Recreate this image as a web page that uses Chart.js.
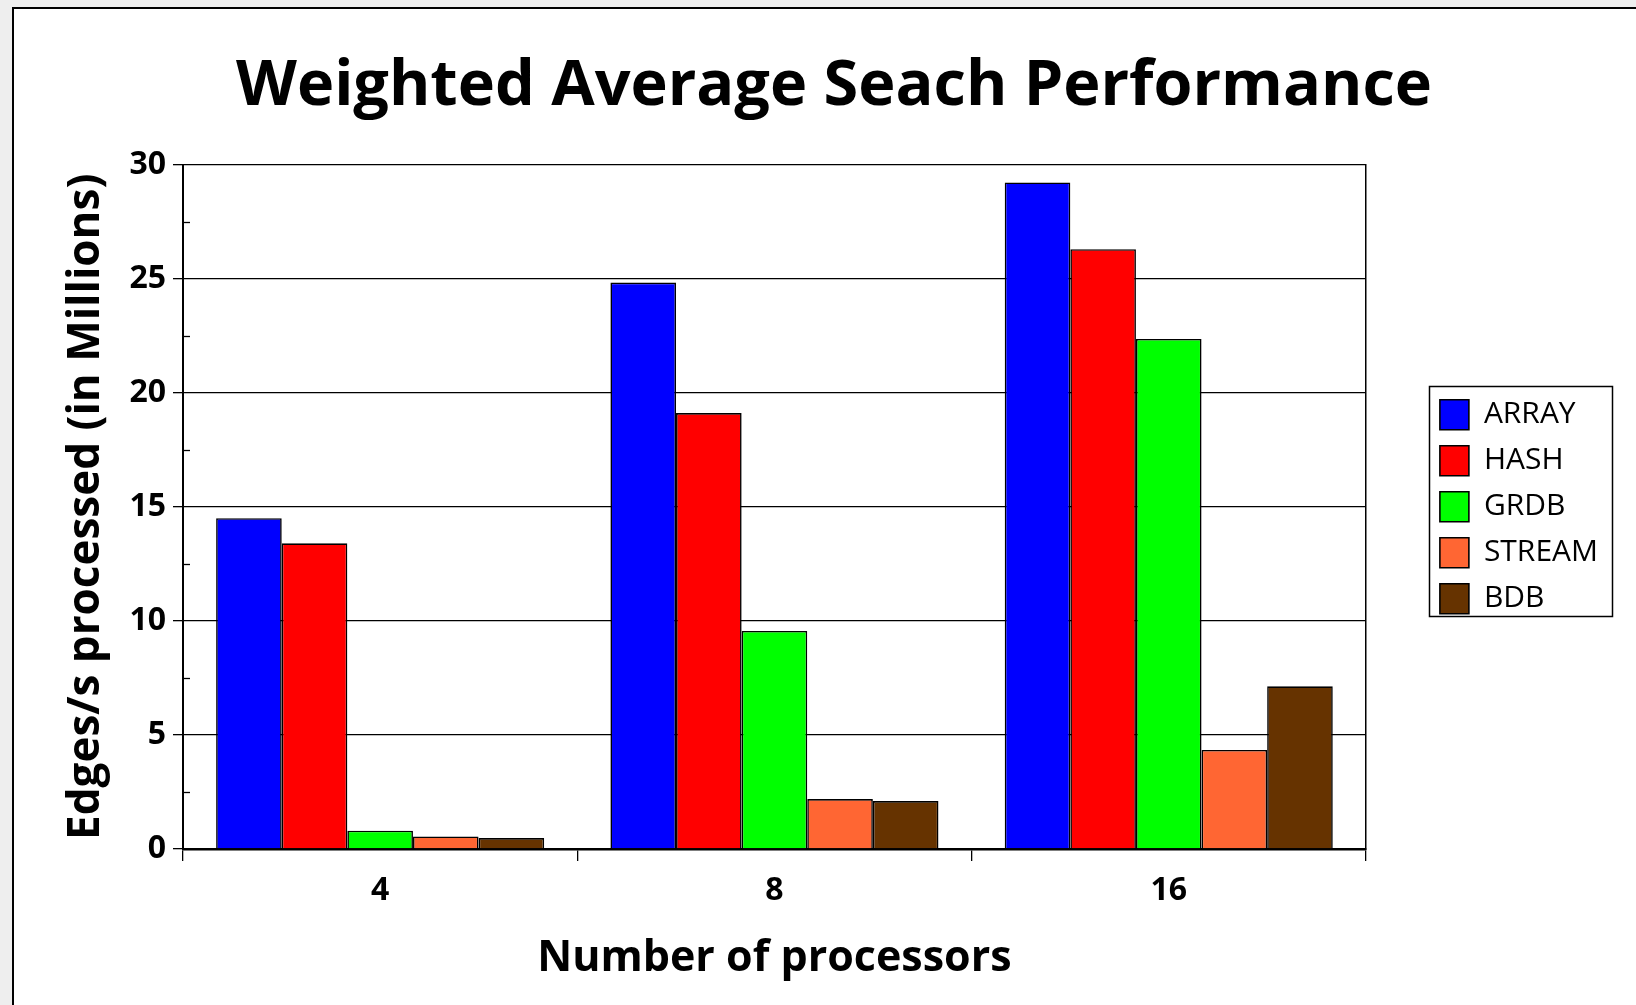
<!DOCTYPE html>
<html>
<head>
<meta charset="utf-8">
<title>Weighted Average Seach Performance</title>
<script src="https://cdn.jsdelivr.net/npm/chart.js@4.4.1/dist/chart.umd.min.js"></script>
<style>
  html, body { margin: 0; padding: 0; width: 1636px; height: 1005px; overflow: hidden; background: #eeeeee; }
  #panel { position: absolute; left: 12px; top: 7px; width: 1640px; height: 1010px; background: #ffffff;
           border-left: 2px solid #000; border-top: 2px solid #000; }
  #chart { position: absolute; left: 0; top: 0; }
</style>
</head>
<body>
<div id="panel"></div>
<canvas id="chart" width="1636" height="1005" style="width:1636px;height:1005px"></canvas>
<script>
// Processor counts on the x axis
const categories = ['4', '8', '16'];

// Edges/s processed, in millions, per storage backend
const arrayValues  = [14.5, 24.83, 29.22];
const hashValues   = [13.4, 19.11, 26.29];
const grdbValues   = [0.8, 9.56, 22.36];
const streamValues = [0.55, 2.19, 4.34];
const bdbValues    = [0.48, 2.1, 7.13];

// Y axis range and labelled step
const yMin = 0;
const yMax = 30;
const yStep = 5;

const FONT = "'Open Sans', 'DejaVu Sans', sans-serif";
Chart.defaults.color = '#000';
Chart.defaults.font.family = FONT;

function series(label, data, color) {
  return {
    label, data,
    backgroundColor: color,
    borderColor: '#000',
    borderWidth: 1.6,
    categoryPercentage: 0.832,
    barPercentage: 1.0
  };
}

// Short inward ticks halfway between the labelled y ticks
const minorTicks = {
  id: 'minorTicks',
  afterDatasetsDraw(chart) {
    const y = chart.scales.y;
    const ticks = y.ticks;
    const left = chart.chartArea.left;
    const ctx = chart.ctx;
    ctx.save();
    ctx.strokeStyle = '#000';
    ctx.lineWidth = 1.3;
    for (let i = 0; i < ticks.length - 1; i++) {
      const mid = (ticks[i].value + ticks[i + 1].value) / 2;
      const py = Math.round(y.getPixelForValue(mid)) + 0.5;
      ctx.beginPath();
      ctx.moveTo(left, py);
      ctx.lineTo(left + 7, py);
      ctx.stroke();
    }
    ctx.restore();
  }
};

// Frame around the legend entries
const legendFrame = {
  id: 'legendFrame',
  afterDraw(chart) {
    const hb = chart.legend && chart.legend.legendHitBoxes;
    if (!hb || !hb.length) return;
    const first = hb[0], last = hb[hb.length - 1];
    let maxRight = 0;
    hb.forEach(b => { maxRight = Math.max(maxRight, b.left + b.width); });
    const x0 = Math.round(first.left - 11) + 0.5;
    const y0 = Math.round(first.top - 13.5) + 0.5;
    const x1 = Math.round(maxRight + 14) + 0.5;
    const y1 = Math.round(last.top + last.height + 2.5) + 0.5;
    const ctx = chart.ctx;
    ctx.save();
    ctx.strokeStyle = '#000';
    ctx.lineWidth = 1.5;
    ctx.strokeRect(x0, y0, x1 - x0, y1 - y0);
    ctx.restore();
  }
};

new Chart(document.getElementById('chart'), {
  type: 'bar',
  data: {
    labels: categories,
    datasets: [
      series('ARRAY', arrayValues, '#0000ff'),
      series('HASH', hashValues, '#ff0000'),
      series('GRDB', grdbValues, '#00ff00'),
      series('STREAM', streamValues, '#ff6633'),
      series('BDB', bdbValues, '#663300')
    ]
  },
  options: {
    responsive: false,
    animation: false,
    devicePixelRatio: 1,
    layout: { padding: { left: 60, right: 28, top: 0, bottom: 20 } },
    plugins: {
      title: {
        display: true,
        text: 'Weighted Average Seach Performance',
        color: '#000',
        font: { family: FONT, size: 63, weight: 'bold' },
        padding: { top: 49, bottom: 40 }
      },
      legend: {
        position: 'right',
        fullSize: false,
        labels: {
          color: '#000',
          font: { family: FONT, size: 30, weight: '500' },
          boxWidth: 29,
          boxHeight: 30,
          padding: 16
        }
      },
      tooltip: { enabled: false }
    },
    scales: {
      x: {
        grid: {
          offset: true,
          drawOnChartArea: false,
          drawTicks: true,
          tickLength: 12,
          color: '#000',
          lineWidth: 1.3
        },
        border: { display: true, color: '#000', width: 2.5 },
        ticks: {
          color: '#000',
          font: { family: FONT, size: 32, weight: 'bold' },
          padding: 11
        },
        title: {
          display: true,
          text: 'Number of processors',
          color: '#000',
          font: { family: FONT, size: 43, weight: 'bold' },
          padding: 0
        },
        afterFit(scale) { scale.height = 136; }
      },
      y: {
        min: yMin,
        max: yMax,
        ticks: {
          stepSize: yStep,
          color: '#000',
          font: { family: FONT, size: 32, weight: 'bold' },
          padding: 7
        },
        grid: {
          color: '#000',
          lineWidth: 1.3,
          drawTicks: true,
          tickLength: 10
        },
        border: { display: true, color: '#000', width: 2 },
        title: {
          display: true,
          text: 'Edges/s processed (in Millions)',
          color: '#000',
          font: { family: FONT, size: 44, weight: 'bold' },
          padding: 0
        },
        afterFit(scale) { scale.width = 123; }
      },
      // Right-hand frame edge of the plot, also spacing before the legend
      yRight: {
        position: 'right',
        display: true,
        grid: { display: false },
        ticks: { display: false },
        border: { display: true, color: '#000', width: 1.5 },
        afterFit(scale) { scale.width = 58; }
      }
    }
  },
  plugins: [minorTicks, legendFrame]
});
</script>
</body>
</html>
